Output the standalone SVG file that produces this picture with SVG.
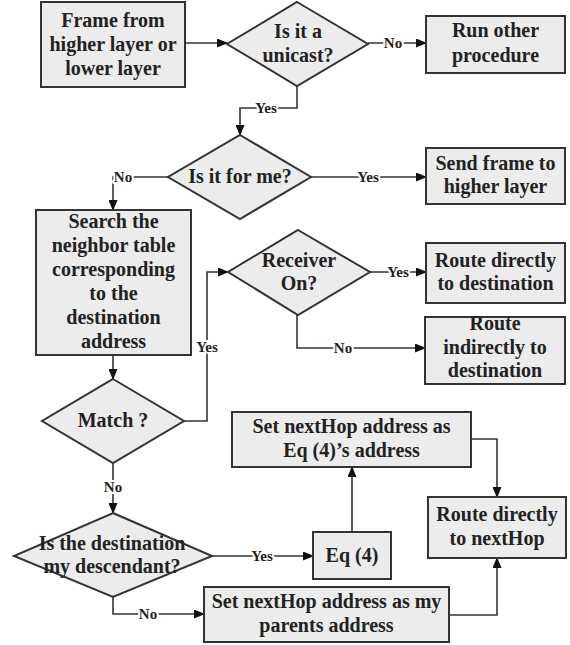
<svg xmlns="http://www.w3.org/2000/svg" width="570" height="645" viewBox="0 0 570 645">
<defs>
<marker id="arr" markerUnits="userSpaceOnUse" markerWidth="11" markerHeight="9" refX="10" refY="4.5" orient="auto">
<path d="M0,0 L11,4.5 L0,9 z" fill="#111"/>
</marker>
<style>
.n{fill:#ececec;stroke:#333;stroke-width:2}
.t{font-family:"Liberation Serif","Times New Roman",serif;font-weight:bold;font-size:20px;fill:#222;text-anchor:middle}
.c{fill:none;stroke:#333;stroke-width:1.6}
.l{font-family:"Liberation Serif","Times New Roman",serif;font-weight:bold;font-size:15px;fill:#222;text-anchor:middle;stroke:#fff;stroke-width:4;paint-order:stroke;stroke-linejoin:round}
</style>
</defs>
<rect width="570" height="645" fill="#fff"/>
<g id="connectors">
<polyline class="c" points="185,43 227,43" marker-end="url(#arr)"/>
<polyline class="c" points="368,43 426,43" marker-end="url(#arr)"/>
<polyline class="c" points="297,86 297,108 240,108 240,135" marker-end="url(#arr)"/>
<polyline class="c" points="311,177 426,177" marker-end="url(#arr)"/>
<polyline class="c" points="168,177 113,177 113,210" marker-end="url(#arr)"/>
<polyline class="c" points="113,355 113,379" marker-end="url(#arr)"/>
<polyline class="c" points="184,421 207,421 207,272 228,272" marker-end="url(#arr)"/>
<polyline class="c" points="370,272 426,272" marker-end="url(#arr)"/>
<polyline class="c" points="297,315 297,348 425,348" marker-end="url(#arr)"/>
<polyline class="c" points="113,463 113,513" marker-end="url(#arr)"/>
<polyline class="c" points="212,556 313,556" marker-end="url(#arr)"/>
<polyline class="c" points="113,597 113,614 204,614" marker-end="url(#arr)"/>
<polyline class="c" points="352,532 352,467" marker-end="url(#arr)"/>
<polyline class="c" points="471,439 497,439 497,497" marker-end="url(#arr)"/>
<polyline class="c" points="449,615 497,615 497,558" marker-end="url(#arr)"/>
<text class="l" x="393" y="48">No</text>
<text class="l" x="266" y="113">Yes</text>
<text class="l" x="368" y="182">Yes</text>
<text class="l" x="123" y="182">No</text>
<text class="l" x="207" y="352">Yes</text>
<text class="l" x="398" y="277">Yes</text>
<text class="l" x="343" y="353">No</text>
<text class="l" x="113" y="492">No</text>
<text class="l" x="262" y="561">Yes</text>
<text class="l" x="148" y="619">No</text>
</g>
<g id="frame">
<rect class="n" x="41" y="2" width="144" height="85"/>
<text class="t" x="113" y="27">Frame from</text>
<text class="t" x="113" y="51">higher layer or</text>
<text class="t" x="113" y="75">lower layer</text>
</g>
<g id="unicast">
<polygon class="n" points="297,2 368,44 297,86 227,44"/>
<text class="t" x="298" y="38">Is it a</text>
<text class="t" x="298" y="62">unicast?</text>
</g>
<g id="run-other">
<rect class="n" x="426" y="16" width="139" height="57"/>
<text class="t" x="495.5" y="37">Run other</text>
<text class="t" x="495.5" y="62">procedure</text>
</g>
<g id="for-me">
<polygon class="n" points="240,135 311,177 240,219 168,177"/>
<text class="t" x="240" y="183">Is it for me?</text>
</g>
<g id="send-higher">
<rect class="n" x="426" y="148" width="139" height="56"/>
<text class="t" x="495.5" y="170">Send frame to</text>
<text class="t" x="495.5" y="193">higher layer</text>
</g>
<g id="search">
<rect class="n" x="36" y="210" width="155" height="145"/>
<text class="t" x="113.5" y="228">Search the</text>
<text class="t" x="113.5" y="252">neighbor table</text>
<text class="t" x="113.5" y="276">corresponding</text>
<text class="t" x="113.5" y="300">to the</text>
<text class="t" x="113.5" y="324">destination</text>
<text class="t" x="113.5" y="348">address</text>
</g>
<g id="receiver-on">
<polygon class="n" points="298,230 370,272 298,315 228,272"/>
<text class="t" x="299" y="267">Receiver</text>
<text class="t" x="299" y="290">On?</text>
</g>
<g id="route-direct-dest">
<rect class="n" x="426" y="243" width="139" height="60"/>
<text class="t" x="495.5" y="267">Route directly</text>
<text class="t" x="495.5" y="290">to destination</text>
</g>
<g id="route-indirect-dest">
<rect class="n" x="425" y="317" width="140" height="67"/>
<text class="t" x="495" y="330">Route</text>
<text class="t" x="495" y="354">indirectly to</text>
<text class="t" x="495" y="377">destination</text>
</g>
<g id="match">
<polygon class="n" points="113,379 184,421 113,463 42,421"/>
<text class="t" x="113" y="427">Match ?</text>
</g>
<g id="set-eq">
<rect class="n" x="232" y="412" width="239" height="55"/>
<text class="t" x="351.5" y="433">Set nextHop address as</text>
<text class="t" x="351.5" y="457">Eq (4)’s address</text>
</g>
<g id="descendant">
<polygon class="n" points="113,513 212,556 113,597 14,556"/>
<text class="t" x="112" y="550">Is the destination</text>
<text class="t" x="112" y="573">my descendant?</text>
</g>
<g id="eq4">
<rect class="n" x="313" y="532" width="78" height="47"/>
<text class="t" x="352" y="562">Eq (4)</text>
</g>
<g id="route-nexthop">
<rect class="n" x="428" y="497" width="138" height="61"/>
<text class="t" x="497" y="521">Route directly</text>
<text class="t" x="497" y="545">to nextHop</text>
</g>
<g id="set-parents">
<rect class="n" x="204" y="587" width="245" height="55"/>
<text class="t" x="326.5" y="608">Set nextHop address as my</text>
<text class="t" x="326.5" y="632">parents address</text>
</g>
</svg>
